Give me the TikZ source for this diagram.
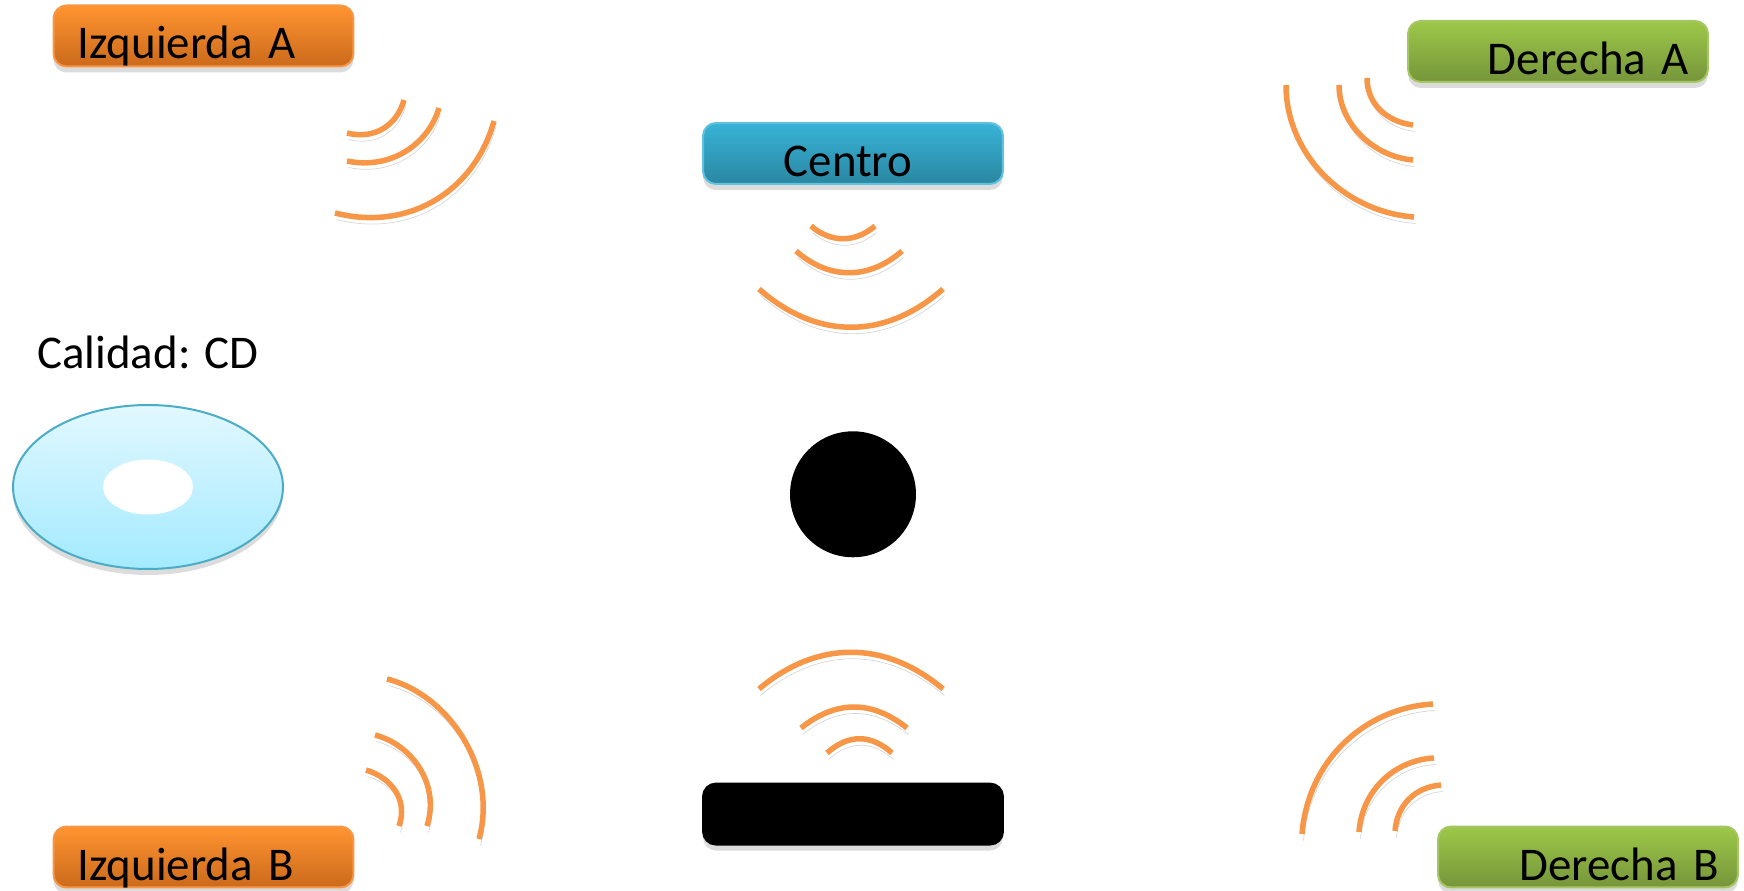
\documentclass[tikz,border=0pt]{standalone}
\usepackage{fontspec}
\setmainfont{Carlito}
\usepackage{xcolor}
\usepackage{tikz}
\usetikzlibrary{shapes.geometric, shadows, positioning}

\definecolor{waveorange}{HTML}{F79646}
\definecolor{cdedge}{HTML}{4BACC6}
\definecolor{cdtop}{HTML}{E2F8FF}
\definecolor{cdbot}{HTML}{A3EAFF}
\definecolor{orangetop}{HTML}{FF9430}
\definecolor{orangebot}{HTML}{CB6A1C}
\definecolor{greentop}{HTML}{9DC849}
\definecolor{greenbot}{HTML}{76953A}
\definecolor{greenedge}{HTML}{A5C663}
\definecolor{bluetop}{HTML}{38B3D7}
\definecolor{bluebot}{HTML}{2A87A2}

\begin{document}
\begin{tikzpicture}[x=0.02cm, y=-0.02cm,
    every node/.style={font=\fontsize{26.7}{32}\selectfont},
    softshadow/.style={drop shadow={shadow xshift=0cm, shadow yshift=-.12cm, opacity=.28}},
    speaker/.style={draw, line width=.04cm, rounded corners=.26cm, minimum width=6cm, minimum height=1.22cm,
        inner ysep=0cm, text height=1.07cm, text depth=.15cm, softshadow},
    leftbox/.style={speaker, draw=waveorange, top color=orangetop, bottom color=orangebot,
        inner xsep=.48cm, text width=5.04cm, align=left},
    rightbox/.style={speaker, draw=greenedge, top color=greentop, bottom color=greenbot,
        inner xsep=.38cm, text width=5.24cm, align=right},
    wave/.style={draw=waveorange, line width=.11cm,
        preaction={draw=black, opacity=.16, transform canvas={xshift=.03cm, yshift=-.13cm}}},
    ]
    \useasboundingbox (0,0) rectangle (1744,891);

    % Left speakers
    \node [leftbox] (izq_a) at (203.5,36) {Izquierda A};
    \node [leftbox] (izq_b) at (203.5,857) {Izquierda B};

    % Right speakers
    \node [rightbox] (der_a) at (1558,51.5) {Derecha A};
    \node [rightbox] (der_b) at (1588,857) {Derecha B};

    % Centre speaker and listener
    \node [speaker, draw=bluetop!80!white, top color=bluetop, bottom color=bluebot, align=center] (centro) at (853,153.5) {Centro\hspace*{.2cm}};
    \node [circle, fill=black, minimum size=2.52cm, inner sep=0cm, below=4.92cm of centro] (listener) {};
    \node [speaker, fill=black, draw=black, below=4.5cm of listener] (sub) {};

    % Disc
    \node [ellipse, draw=cdedge, line width=.04cm, top color=cdtop, bottom color=cdbot, minimum width=5.4cm, minimum height=3.28cm, inner sep=0cm, softshadow] (cd) at (148,487) {};
    \node [ellipse, fill=white, minimum width=1.8cm, minimum height=1.1cm, inner sep=0cm] (hole) at (cd.center) {};
    \node [anchor=base west, inner sep=0cm] (calidad) at (37,369) {Calidad: CD};

    % Waves of Izquierda A
    \path [wave] (347,133) .. controls (375,140) and (397,125) .. (404,100);
    \path [wave] (347,161) .. controls (390,170) and (428,145) .. (439,108);
    \path [wave] (335,213) .. controls (410,232) and (475,190) .. (494,121);

    % Waves of Derecha A
    \path [wave] (1367,78) .. controls (1367,105) and (1388,122) .. (1413,125);
    \path [wave] (1339,85) .. controls (1339,125) and (1375,157) .. (1413,160);
    \path [wave] (1286,85) .. controls (1286,155) and (1345,212) .. (1414,217);

    % Waves of Centro
    \path [wave] (811,226) .. controls (831,243) and (855,243) .. (875,226);
    \path [wave] (796,251) .. controls (829,280) and (869,280) .. (902,251);
    \path [wave] (759,289) .. controls (817,340) and (885,340) .. (943,289);

    % Waves of the lower box
    \path [wave] (759,689) .. controls (817,640) and (885,640) .. (943,689);
    \path [wave] (801,728) .. controls (836,700) and (872,700) .. (907,728);
    \path [wave] (827,753) .. controls (848,734) and (871,734) .. (892,753);

    % Waves of Izquierda B
    \path [wave] (366,770) .. controls (392,778) and (408,800) .. (399,826);
    \path [wave] (375,735) .. controls (413,745) and (440,785) .. (427,826);
    \path [wave] (387,679) .. controls (450,695) and (498,770) .. (479,839);

    % Waves of Derecha B
    \path [wave] (1395,831) .. controls (1397,805) and (1415,787) .. (1441,785);
    \path [wave] (1359,832) .. controls (1362,790) and (1395,760) .. (1434,758);
    \path [wave] (1302,834) .. controls (1308,760) and (1365,708) .. (1433,704);
\end{tikzpicture}
\end{document}
